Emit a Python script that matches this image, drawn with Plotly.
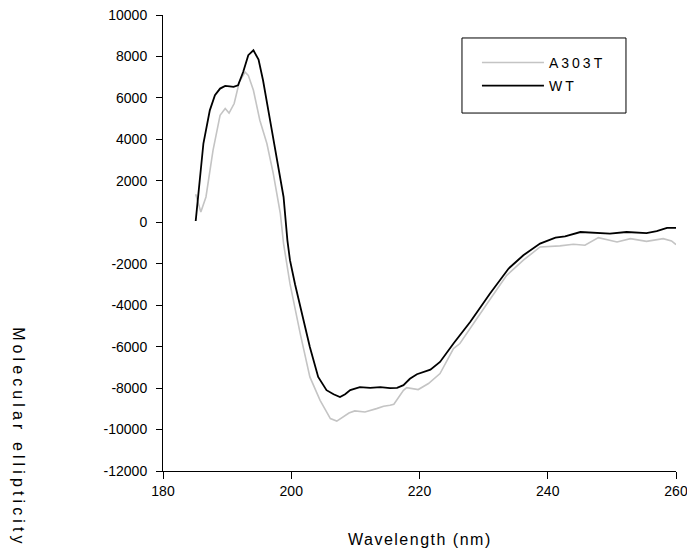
import plotly.graph_objects as go

# ---- data ----
wt_x = [185.1, 185.7, 186.3, 187.3, 188.1, 188.9, 189.7, 190.4, 191.0, 191.7, 192.5, 193.3, 194.1,
        194.9, 195.6, 196.7, 197.7, 198.8, 199.4, 199.8, 200.6, 201.4, 202.9, 204.2, 205.5, 206.6,
        207.6, 208.4, 209.2, 210.7, 212.3, 213.9, 215.4, 216.5, 217.5, 218.5, 219.6, 221.7, 223.2,
        225.3, 227.9, 231.0, 233.9, 236.2, 238.8, 241.2, 242.7, 245.1, 247.1, 249.7, 252.3, 255.4,
        257.0, 258.6, 260.0]
wt_y = [60, 2100, 3800, 5400, 6130, 6450, 6580, 6560, 6530, 6610, 7250, 8060, 8300,
        7850, 6850, 4920, 3150, 1220, -870, -1830, -3000, -4090, -6020, -7460, -8100, -8300,
        -8430, -8300, -8100, -7950, -7990, -7950, -8000, -7990, -7860, -7550, -7330, -7110, -6740,
        -5850, -4810, -3440, -2230, -1590, -1030, -740, -680, -470, -500, -550, -470, -520,
        -430, -270, -270]

a303t_x = [185.1, 185.9, 186.7, 187.8, 188.9, 189.7, 190.3, 191.1, 191.9, 192.8, 193.3, 194.1, 195.1,
           196.2, 197.2, 198.3, 198.8, 199.8, 201.4, 202.9, 204.5, 206.1, 207.1, 208.1, 209.0, 209.9,
           211.5, 213.3, 214.4, 215.4, 216.0, 217.5, 218.0, 219.8, 221.4, 223.2, 225.3, 226.3, 228.9,
           230.9, 233.6, 236.2, 238.8, 241.9, 244.0, 245.8, 247.9, 250.8, 252.9, 255.4, 258.0, 259.3,
           260.0]
a303t_y = [1350, 500, 1220, 3470, 5160, 5490, 5270, 5730, 6770, 7250, 7090, 6370, 4920,
           3800, 2350, 420, -1030, -2960, -5370, -7460, -8590, -9470, -9590, -9390, -9200, -9100,
           -9150, -8990, -8880, -8830, -8780, -8110, -7980, -8070, -7780, -7300, -6090, -5850, -4650,
           -3760, -2560, -1830, -1190, -1140, -1060, -1110, -740, -950, -790, -920, -790, -900,
           -1080]

x_ticks = [180, 200, 220, 240, 260]
y_ticks = [10000, 8000, 6000, 4000, 2000, 0, -2000, -4000, -6000, -8000, -10000, -12000]
y_ticktext = ["10000", "8000", "6000", "4000", "2000", "0", "-2000", "-4000", "-6000",
              "-8000", "-10000", "-12000"]

FONT = "Liberation Sans, Arial, sans-serif"

fig = go.Figure()
fig.add_trace(go.Scatter(x=a303t_x, y=a303t_y, mode="lines", legendgroup="a",
                         name='<span style="letter-spacing:3px">A303T</span>',
                         line=dict(color="#c4c4c4", width=1.6)))
fig.add_trace(go.Scatter(x=wt_x, y=wt_y, mode="lines", legendgroup="b",
                         name='<span style="letter-spacing:3px">WT</span>',
                         line=dict(color="black", width=1.8)))

# the page body adds an 8px margin, so the figure is sized/offset to compensate
fig.update_layout(
    width=687, height=551,
    margin=dict(l=155, r=19, t=7, b=88, autoexpand=False),
    paper_bgcolor="white", plot_bgcolor="white",
    font=dict(family=FONT, size=14, color="black"),
    showlegend=True,
    legend=dict(x=0.612, y=0.93, xanchor="left", yanchor="top",
                borderwidth=0, bgcolor="rgba(0,0,0,0)", itemwidth=62,
                font=dict(size=14), tracegroupgap=2),
    shapes=[dict(type="rect", xref="paper", yref="paper",
                 x0=0.5828, x1=0.9025, y0=0.785, y1=0.9496,
                 line=dict(color="black", width=1), fillcolor="rgba(0,0,0,0)")],
    xaxis=dict(range=[180, 260], tickvals=x_ticks, ticks="outside", ticklen=7,
               tickcolor="black", showline=True, linecolor="black", linewidth=1,
               showgrid=False, zeroline=False, tickfont=dict(size=14),
               ticklabeloverflow="allow"),
    yaxis=dict(range=[-12000, 10000], tickvals=y_ticks, ticktext=y_ticktext,
               ticks="outside", ticklen=6, tickcolor="black", showline=True,
               linecolor="black", linewidth=1, showgrid=False, zeroline=False,
               tickfont=dict(size=14), ticklabelstandoff=6,
               ticklabeloverflow="allow"),
    annotations=[
        dict(text='<span style="letter-spacing:1.5px">Wavelength (nm)</span>',
             xref="paper", yref="paper", x=0.5, y=-0.151, xanchor="center", yanchor="middle",
             showarrow=False, font=dict(size=16)),
        dict(text='<span style="letter-spacing:4.1px">Molecular ellipticity</span>',
             xref="paper", yref="paper", x=-0.283, y=0.0746, xanchor="center", yanchor="middle",
             textangle=90, showarrow=False, font=dict(size=16)),
    ],
)

fig.write_html("out.html")
